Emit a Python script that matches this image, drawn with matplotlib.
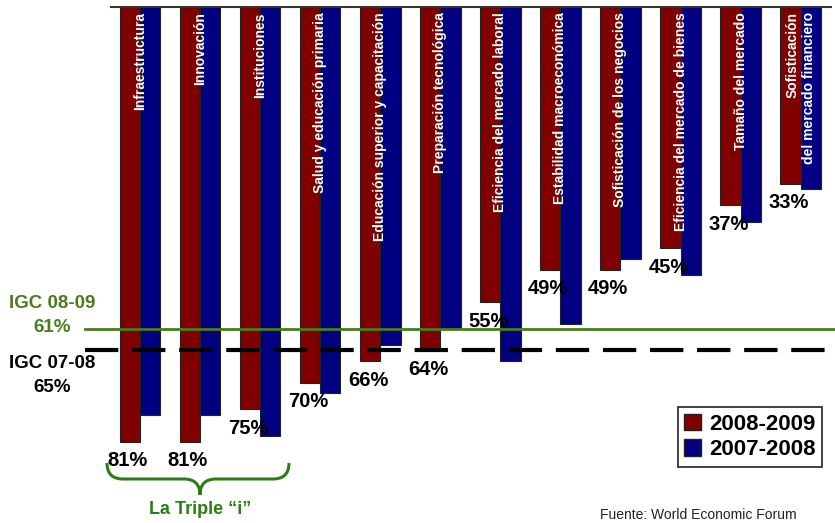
import matplotlib
matplotlib.use("Agg")
import matplotlib.pyplot as plt
from matplotlib.path import Path
from matplotlib.patches import PathPatch, Patch

plt.rcParams['font.family'] = ['Liberation Sans', 'DejaVu Sans']

# pilares del IGC
categorias = ["Infraestructura", "Innovación", "Instituciones",
              "Salud y educación primaria",
              "Educación superior y capacitación",
              "Preparación tecnológica",
              "Eficiencia del mercado laboral",
              "Estabilidad macroeconómica",
              "Sofisticación de los negocios",
              "Eficiencia del mercado de bienes",
              "Tamaño del mercado",
              "Sofisticación\ndel mercado financiero"]
v_2008_2009 = [81, 81, 75, 70, 66, 64, 55, 49, 49, 45, 37, 33]
v_2007_2008 = [76, 76, 80, 72, 63, 60, 66, 59, 47, 50, 40, 34]
etiquetas = [f"{v}%" for v in v_2008_2009]

igc_nombres = ["IGC 08-09", "IGC 07-08"]
igc_textos = ["61%", "65%"]
igc_linea = [60, 64]   # where the lines sit in the picture

rojo = "#800000"
azul = "#000080"
verde = "#4a7c1c"
verde2 = "#2c7d16"

W, H = 835, 523
fig = plt.figure(figsize=(W / 100, H / 100), dpi=100)
ax = fig.add_axes([0, 0, 1, 1])

# pixel -> data helpers
x0, dx = 140.0, 60.06
y0, dy = 6.7, 5.37
def px(x):
    return (x - x0) / dx
def py(y):
    return (y - y0) / dy

ax.set_xlim(px(0), px(W))
ax.set_ylim(py(H), py(0))
ax.axis('off')

n = len(categorias)
idx = list(range(n))
w = 0.338
ax.bar([i - w / 2 for i in idx], v_2008_2009, width=w, color=rojo,
       edgecolor="#222222", linewidth=0.8, zorder=2)
ax.bar([i + w / 2 for i in idx], v_2007_2008, width=w, color=azul,
       edgecolor="#222222", linewidth=0.8, zorder=2)

# linea superior
ax.plot([px(110), px(832)], [0, 0], color="#333333", lw=1.5, zorder=4,
        solid_capstyle='butt')

for i, c in enumerate(categorias):
    ax.text(i, py(12), c, rotation=90, ha='center', va='top',
            multialignment='right', color='white', fontsize=10,
            fontweight='bold', zorder=5)

for i, t in enumerate(etiquetas):
    ax.annotate(t, (i - w / 2, v_2008_2009[i]), xytext=(-2, -19),
                textcoords='offset pixels', ha='center', va='center',
                fontsize=14.5, fontweight='bold', color='black', zorder=5)

# lineas IGC
ax.plot([px(85), px(W)], [igc_linea[0]] * 2, color=verde, lw=2, zorder=3)
ax.plot([px(85), px(W)], [igc_linea[1]] * 2, color='black', lw=3,
        dashes=(8, 3.3), zorder=3)

ax.text(px(52), py(303), igc_nombres[0], ha='center', va='center',
        fontsize=13.5, fontweight='bold', color=verde)
ax.text(px(52), py(327), igc_textos[0], ha='center', va='center',
        fontsize=13.5, fontweight='bold', color=verde)
ax.text(px(52), py(363), igc_nombres[1], ha='center', va='center',
        fontsize=13.5, fontweight='bold', color='black')
ax.text(px(52), py(387), igc_textos[1], ha='center', va='center',
        fontsize=13.5, fontweight='bold', color='black')

# llave "La Triple i"
pts = [(107, 463), (107, 479), (123, 479),
       (184, 479), (200, 479), (200, 495),
       (200, 479), (216, 479),
       (273, 479), (289, 479), (289, 463)]
codes = [Path.MOVETO, Path.CURVE3, Path.CURVE3,
         Path.LINETO, Path.CURVE3, Path.CURVE3,
         Path.CURVE3, Path.CURVE3,
         Path.LINETO, Path.CURVE3, Path.CURVE3]
llave = Path([(px(a), py(b)) for a, b in pts], codes)
ax.add_patch(PathPatch(llave, facecolor='none', edgecolor=verde2, lw=2.2,
                       zorder=3))
ax.text(px(200), py(510), "La Triple \u201ci\u201d", ha='center', va='center',
        fontsize=13, fontweight='bold', color=verde2)

handles = [Patch(facecolor=rojo, edgecolor='#222222', label='2008-2009'),
           Patch(facecolor=azul, edgecolor='#222222', label='2007-2008')]
leg = ax.legend(handles=handles, loc='upper right',
                bbox_to_anchor=(822 / W, 1 - 407 / H), borderaxespad=0,
                prop={'size': 16, 'weight': 'bold'}, fancybox=False,
                edgecolor='#222222', framealpha=1, handlelength=0.75,
                handleheight=0.75, handletextpad=0.35, labelspacing=0.2,
                borderpad=0.3)
leg.get_frame().set_linewidth(1.2)

ax.text(px(600), py(522), "Fuente: World Economic Forum", ha='left',
        va='bottom', fontsize=10, color='#222222')

fig.savefig("out.png", dpi=100)
